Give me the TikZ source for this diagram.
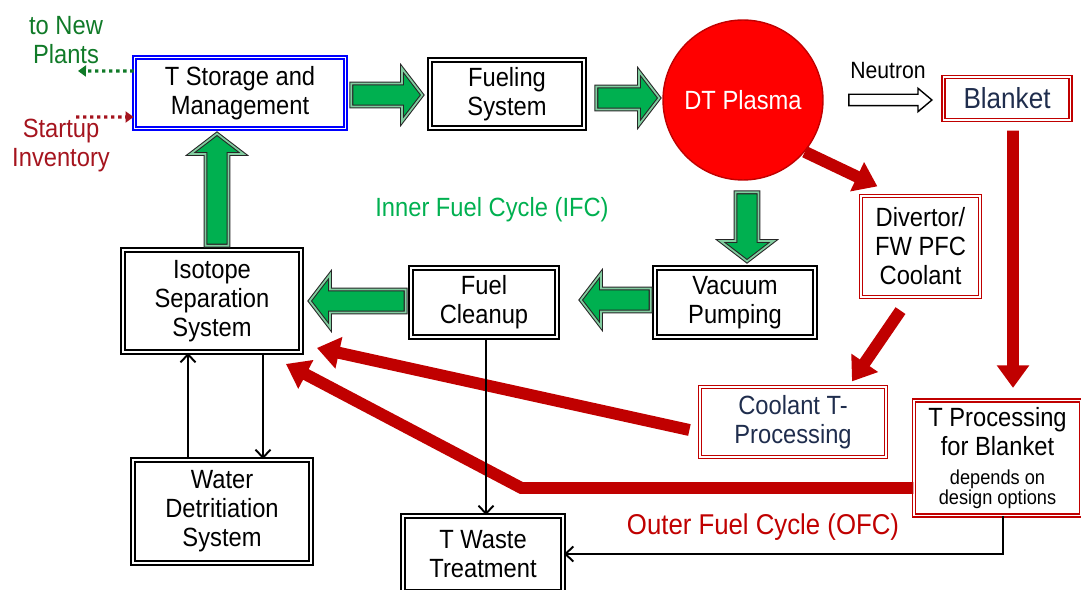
\documentclass[tikz,border=0pt]{standalone}
\usepackage{fontspec}
\setmainfont{Liberation Sans}[FakeStretch=0.9]
\usetikzlibrary{shapes.arrows,arrows.meta,calc}
\definecolor{ifcgreen}{RGB}{0,176,80}
\definecolor{gapgreen}{RGB}{130,205,160}
\definecolor{ofcred}{RGB}{192,0,0}
\definecolor{plasmared}{RGB}{255,0,0}
\definecolor{navytext}{RGB}{31,45,77}
\definecolor{plantgreen}{RGB}{16,122,40}
\definecolor{startred}{RGB}{165,20,30}
\definecolor{storeblue}{RGB}{0,0,255}

\begin{document}
\begin{tikzpicture}[x=0.02cm, y=-0.02cm,
    every node/.style={font=\fontsize{15}{16.5}\selectfont},
    box/.style={rectangle, draw=black, line width=1.1pt, double=white, double distance=1.1pt, inner sep=0pt, align=center},
    bluebox/.style={box, draw=storeblue},
    redbox/.style={box, draw=ofcred, line width=0.7pt, double distance=1pt},
    garrow/.style={single arrow, anchor=tip, draw=black!85, line width=0.6pt, double=gapgreen, double distance=1pt, fill=ifcgreen, inner sep=0.22cm, single arrow head extend=0.3cm, single arrow tip angle=105},
    redarrow/.style={draw=ofcred, line width=6.8pt, -{Triangle[length=0.45cm, width=0.62cm]}},
    thinarrow/.style={draw=black, line width=1.1pt, -{Straight Barb[length=0.16cm, width=0.3cm]}},
    dotarrow/.style={line width=1.9pt, dash pattern=on 1.9pt off 2.1pt, -{Triangle[length=0.16cm, width=0.22cm]}}
]
\useasboundingbox (0,0) rectangle (1081,590);

\node[bluebox, minimum width=4.22cm, minimum height=1.42cm] (store) at (240,93) {T Storage and\\Management};
\node[box, minimum width=3.08cm, minimum height=1.36cm] (fueling) at (507,94) {Fueling\\System};
\node[circle, draw=ofcred, line width=0.8pt, fill=plasmared, minimum size=3.2cm, text=white] (plasma) at (743,100) {DT Plasma};
\node[redbox, minimum width=2.54cm, minimum height=0.86cm, text=navytext, font=\fontsize{16.5}{18}\selectfont] (blanket) at (1007,98.5) {Blanket};
\node[redbox, minimum width=2.38cm, minimum height=2.02cm] (divertor) at (920.5,246.5) {Divertor/\\FW PFC\\Coolant};
\node[box, minimum width=3.2cm, minimum height=1.38cm] (vacuum) at (735,302.5) {Vacuum\\Pumping};
\node[box, minimum width=2.92cm, minimum height=1.38cm] (cleanup) at (484,302.5) {Fuel\\Cleanup};
\node[box, minimum width=3.56cm, minimum height=2.04cm] (isotope) at (212,301) {Isotope\\Separation\\System};
\node[box, minimum width=3.56cm, minimum height=2.06cm] (water) at (222,511.5) {Water\\Detritiation\\System};
\node[box, minimum width=3.2cm, minimum height=1.52cm] (waste) at (483,554) {T Waste\\Treatment};
\node[redbox, minimum width=3.72cm, minimum height=1.4cm, text=navytext] (coolant) at (793,422) {Coolant T-\\Processing};
\node[redbox, minimum width=3.34cm, minimum height=2.3cm] (tproc) at (997.5,458) {T Processing\\for Blanket\\{\fontsize{11.5}{11.3}\selectfont depends on}\\[-5.2pt]{\fontsize{11.5}{11.3}\selectfont design options}};

\node[text=plantgreen, align=center] (newplants) at (66,40) {to New\\Plants};
\node[text=startred, align=center] (startup) at (61,146) {Startup\\Inventory};
\node[font=\fontsize{13.4}{15}\selectfont] (neutronlbl) at (888,71) {Neutron};
\node[text=ifcgreen] (ifc) at (492,210) {Inner Fuel Cycle (IFC)};
\node[text=ofcred, font=\fontsize{16.3}{18}\selectfont] (ofc) at (763,527) {Outer Fuel Cycle (OFC)};

\node[garrow, minimum height=1.42cm] (g1) at (423,95) {};
\node[garrow, minimum height=1.26cm] (g2) at (660,98) {};
\node[garrow, minimum height=1.38cm, shape border rotate=270] (g3) at (747,262) {};
\node[garrow, minimum height=1.4cm, shape border rotate=180] (g4) at (580,300) {};
\node[garrow, minimum height=1.92cm, shape border rotate=180] (g5) at (309,301) {};
\node[garrow, minimum height=2.24cm, shape border rotate=90] (g6) at (217,133) {};
\node[single arrow, anchor=tip, draw=black, line width=0.8pt, fill=white, inner sep=0.1cm, single arrow head extend=0.12cm, single arrow tip angle=80, minimum height=1.66cm] (neutron) at (933,100) {};

\draw[redarrow] (plasma.-40) -- ($(divertor.north west)+(17,-9)$);
\draw[redarrow] ($(divertor.south)+(-20,13)$) -- ($(coolant.north)+(59,-5)$);
\draw[redarrow] ($(blanket.south)+(6,10)$) -- ($(tproc.north)+(15.5,-12)$);
\draw[redarrow] ($(coolant.west)+(-10,8)$) -- ($(isotope.south east)+(15,-5)$);
\draw[redarrow] ($(tproc.west)+(0,30)$) -- ++(-392,0) -- ($(isotope.south east)+(-16,11)$);

\draw[thinarrow] ([xshift=1.02cm]isotope.south) -- ([xshift=1.02cm]isotope.south |- water.north);
\draw[thinarrow] ([xshift=-0.68cm]water.north) -- ([xshift=-0.68cm]water.north |- isotope.south);
\draw[thinarrow] ([xshift=0.04cm]cleanup.south) -- ([xshift=0.04cm]cleanup.south |- waste.north);
\draw[thinarrow] ([xshift=0.11cm]tproc.south) |- (waste.east);

\coordinate (plantsend) at (78,71);
\coordinate (startupbeg) at (76,117);
\draw[dotarrow, plantgreen] ([yshift=0.44cm]store.west) -- (plantsend);
\draw[dotarrow, startred] (startupbeg) -- ([yshift=-0.48cm]store.west);
\end{tikzpicture}
\end{document}
